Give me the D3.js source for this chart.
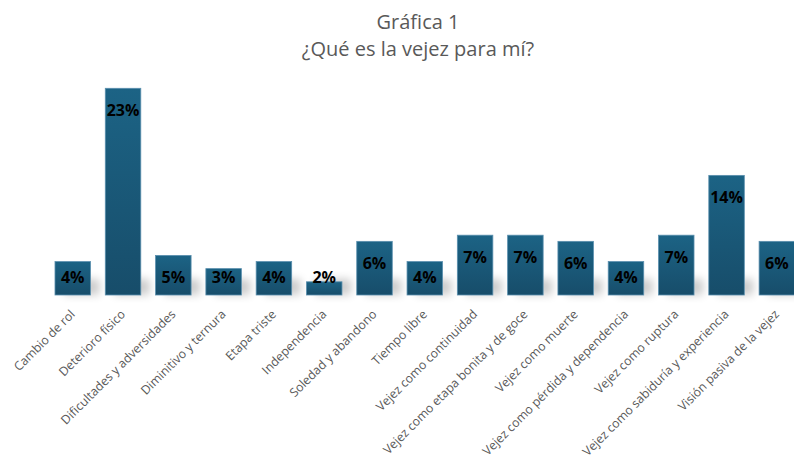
<!DOCTYPE html>
<html>
<head>
<meta charset="utf-8">
<script src="https://cdn.jsdelivr.net/npm/d3@7"></script>
<style>
  body { margin: 0; background: #fff; }
  svg { display: block; }
</style>
</head>
<body>
<div id="chart"></div>
<script>
// categories and values (share of 132 answers, in %)
const categories = [
  "Cambio de rol", "Deterioro físico", "Dificultades y adversidades",
  "Diminitivo y ternura", "Etapa triste", "Independencia",
  "Soledad y abandono", "Tiempo libre", "Vejez como continuidad",
  "Vejez como etapa bonita y de goce", "Vejez como muerte",
  "Vejez como pérdida y dependencia", "Vejez como ruptura",
  "Vejez como sabiduría y experiencia", "Visión pasiva de la vejez"
];
const values = [3.8, 23.5, 4.5, 3.0, 3.8, 1.5, 6.1, 3.8, 6.8, 6.8, 6.1, 3.8, 6.8, 13.6, 6.1];
const valueLabels = ["4%", "23%", "5%", "3%", "4%", "2%", "6%", "4%", "7%", "7%", "6%", "4%", "7%", "14%", "6%"];
const titleLines = ["Gráfica 1", "¿Qué es la vejez para mí?"];

const width = 794, height = 469;
const baseY = 295;

const svg = d3.select("#chart").append("svg")
  .attr("width", width)
  .attr("height", height);

const defs = svg.append("defs");
const grad = defs.append("linearGradient")
  .attr("id", "barGrad")
  .attr("x1", 0).attr("y1", 0).attr("x2", 0).attr("y2", 1);
grad.append("stop").attr("offset", "0%").attr("stop-color", "#1c6385");
grad.append("stop").attr("offset", "100%").attr("stop-color", "#174d6a");

defs.append("filter")
  .attr("id", "soft")
  .attr("x", "-50%").attr("y", "-50%").attr("width", "200%").attr("height", "200%")
  .append("feGaussianBlur").attr("stdDeviation", 4);

const x = d3.scaleBand()
  .domain(categories)
  .range([47.6, 802])
  .paddingInner(0.294)
  .paddingOuter(0.147);

const y = d3.scaleLinear()
  .domain([0, 23.5])
  .range([baseY, 88.3]);

// title
svg.append("g")
  .selectAll("text")
  .data(titleLines)
  .join("text")
  .attr("x", 418)
  .attr("y", (d, i) => 29 + i * 27)
  .attr("text-anchor", "middle")
  .attr("font-family", "'Open Sans', sans-serif")
  .attr("font-size", "20px")
  .attr("fill", "#595959")
  .text(d => d);

const data = categories.map((c, i) => ({ cat: c, val: values[i], label: valueLabels[i] }));

// soft shadow at the foot of each bar
svg.append("g")
  .selectAll("rect")
  .data(data)
  .join("rect")
  .attr("x", d => x(d.cat) + 9)
  .attr("y", baseY - 16)
  .attr("width", x.bandwidth())
  .attr("height", 16)
  .attr("fill", "#000")
  .attr("opacity", 0.2)
  .attr("filter", "url(#soft)");

// bars
svg.append("g")
  .selectAll("rect")
  .data(data)
  .join("rect")
  .attr("x", d => x(d.cat))
  .attr("y", d => y(d.val))
  .attr("width", x.bandwidth())
  .attr("height", d => baseY - y(d.val))
  .attr("fill", "url(#barGrad)")
  .attr("stroke", "#5a8fae")
  .attr("stroke-width", 0.8);

// value labels
svg.append("g")
  .selectAll("text")
  .data(data)
  .join("text")
  .attr("x", d => x(d.cat) + x.bandwidth() / 2)
  .attr("y", d => Math.min(y(d.val) + 21.5, baseY - 18) + 6)
  .attr("text-anchor", "middle")
  .attr("font-family", "'Open Sans', sans-serif")
  .attr("font-weight", 700)
  .attr("font-size", "16px")
  .attr("fill", "#000")
  .text(d => d.label);

// category labels
svg.append("g")
  .selectAll("text")
  .data(categories)
  .join("text")
  .attr("transform", d => `translate(${x(d) + x.bandwidth() / 2 + 3},${baseY + 20}) rotate(-45)`)
  .attr("text-anchor", "end")
  .attr("font-family", "'Open Sans', sans-serif")
  .attr("font-size", "12.3px")
  .attr("fill", "#595959")
  .text(d => d);
</script>
</body>
</html>
